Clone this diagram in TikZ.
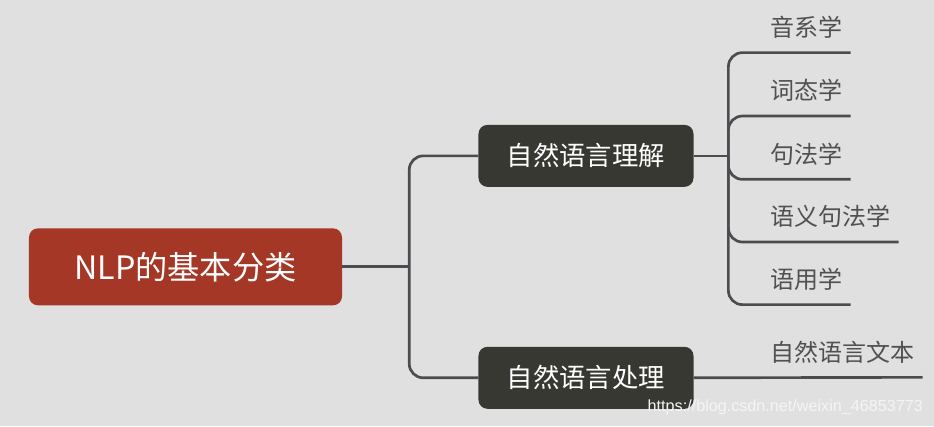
\documentclass[tikz,border=0pt]{standalone}
\usepackage{fontspec}
\setmainfont{Noto Sans CJK SC}
\newfontfamily\markfont{Liberation Sans}
\usepackage{xcolor}
\usepackage{tikz}
\definecolor{bgcolor}{RGB}{224, 224, 224}
\definecolor{rootcolor}{RGB}{164, 55, 38}
\definecolor{branchcolor}{RGB}{56, 56, 50}
\definecolor{linkcolor}{RGB}{75, 75, 80}
\definecolor{leafcolor}{RGB}{80, 80, 80}
\usetikzlibrary{positioning}

\begin{document}
\begin{tikzpicture}[
    x=0.03cm, y=-0.03cm,
    box/.style={rectangle, rounded corners=0.27cm, inner sep=0pt, align=center, text=white},
    rootbox/.style={box, fill=rootcolor, minimum width=9.39cm, minimum height=2.31cm, font=\fontsize{27.5}{33}\selectfont},
    branchbox/.style={box, fill=branchcolor, minimum width=6.45cm, minimum height=1.86cm, font=\fontsize{22.5}{27}\selectfont},
    leaf/.style={anchor=south west, inner xsep=0.24cm, inner ysep=0.48cm, text depth=0pt, text=leafcolor, font=\fontsize{20.5}{24}\selectfont},
    link/.style={draw=linkcolor, line width=0.08cm},
    curvelink/.style={link, rounded corners=0.42cm}
]
    % Background
    \fill[bgcolor] (0,0) rectangle (934,426);

    % Root
    \node[rootbox] (root) at (185.5,266.5) {NLP的基本分类};

    % Branches
    \node[branchbox, above right=1.23cm and 4.08cm of root] (nlu) {自然语言理解};
    \node[branchbox, below right=1.23cm and 4.08cm of root] (proc) {自然语言处理};

    % Joints
    \coordinate[right=2.01cm of root] (j0);
    \coordinate[right=1.04cm of nlu] (j1);

    % Leaves
    \node[leaf] (phon) at (762,52.3) {音系学};
    \node[leaf] (morph) at (762,115.7) {词态学};
    \node[leaf] (syn) at (762,179) {句法学};
    \node[leaf] (sem) at (762,241.7) {语义句法学};
    \node[leaf] (prag) at (762,304.3) {语用学};
    \node[leaf] (text) at (762,377) {自然语言文本};

    % Links
    \draw[link] (root.east) -- (j0);
    \draw[curvelink] (j0) |- (nlu.west);
    \draw[curvelink] (j0) |- (proc.west);
    \draw[link] (nlu.east) -- (j1);
    \draw[curvelink] (j1) |- (phon.south east);
    \draw[curvelink] (j1) |- (morph.south east);
    \draw[curvelink] (j1) |- (syn.south east);
    \draw[curvelink] (j1) |- (sem.south east);
    \draw[curvelink] (j1) |- (prag.south east);
    \draw[link] (proc.east) -- (text.south east);

    % Watermark
    \node[anchor=east, inner sep=0pt, text=white!96!black, font=\markfont\fontsize{13.8}{16}\selectfont] (url) at (923,407) {https://blog.csdn.net/weixin\_46853773};
\end{tikzpicture}
\end{document}
